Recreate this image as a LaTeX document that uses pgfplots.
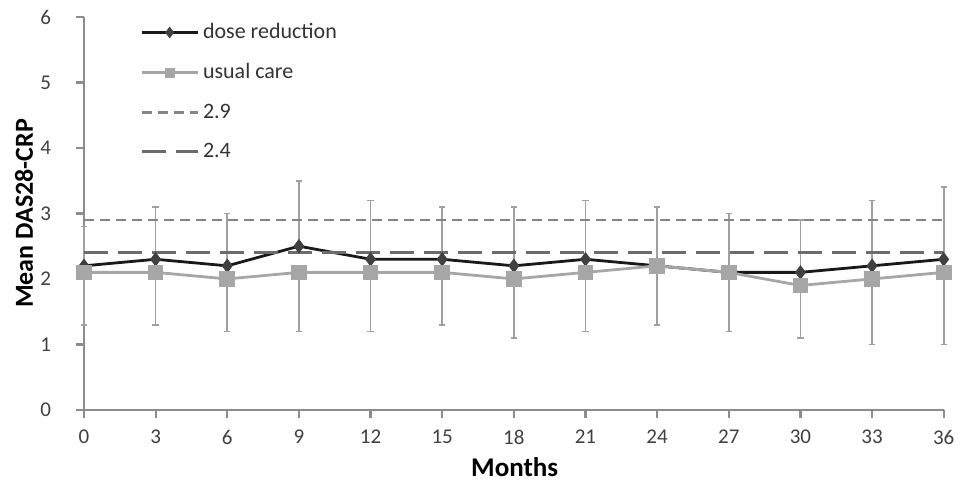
\documentclass[border=0pt]{standalone}
\usepackage{pgfplots}
\pgfplotsset{compat=1.18}
\usepackage{fontspec}
\setmainfont{Carlito}
\definecolor{axgray}{HTML}{8C8C8C}
\definecolor{ucgray}{HTML}{A6A6A6}
\definecolor{errgray}{HTML}{A0A0A0}
\definecolor{dmark}{HTML}{404040}
\begin{document}
\begin{tikzpicture}
\begin{axis}[
  scale only axis,
  width=430pt, height=196.5pt,
  xmin=0, xmax=36, ymin=0, ymax=6,
  axis x line=bottom, axis y line=left,
  axis line style={axgray, line width=1.1pt, -},
  xtick={0,3,...,36}, ytick={0,1,...,6},
  tick style={axgray, line width=1.1pt},
  tick align=outside,
  major tick length=4pt,
  /pgf/number format/assume math mode=true,
  ticklabel style={font=\fontsize{10.5}{12}\selectfont, text=black!75},
  xticklabel shift=2.5pt,
  yticklabel={\pgfmathprintnumber{\tick}\kern9pt},
  yticklabel style={anchor=east},
  xlabel={\textbf{Months}},
  ylabel={\textbf{Mean DAS28-CRP}},
  xlabel style={font=\fontsize{13.5}{15}\selectfont, at={(rel axis cs:0.501,-0.145)}, anchor=center},
  ylabel style={font=\fontsize{13}{15}\selectfont, at={(rel axis cs:-0.0698,0.5)}, anchor=center},
  clip=false,
  legend style={draw=none, fill=none, at={(rel axis cs:0.065,0.995)}, anchor=north west,
    font=\fontsize{11}{12}\selectfont, row sep=7pt, inner sep=0pt, text=black!80},
  legend cell align=left,
  legend image code/.code={\draw[#1] (0cm,0cm) -- (28pt,0cm); \draw[#1,only marks,mark size=1.8pt] plot coordinates {(14pt,0cm)};},
]
\path (rel axis cs:-0.0977,1.0433) rectangle (rel axis cs:1.0198,-0.1832);
\addplot[color=black!90, line width=1.4pt, mark=diamond*, mark size=2.5pt,
  mark options={fill=dmark, draw=dmark, solid},
  error bars/.cd, y dir=plus, y explicit,
  error bar style={errgray, line width=0.8pt, solid},
  error mark options={rotate=90, errgray, mark size=1.6pt, line width=0.8pt}]
  table[x=x, y=y, y error=e] {
x y e
0 2.2 0.6
3 2.3 0.8
6 2.2 0.8
9 2.5 1.0
12 2.3 0.9
15 2.3 0.8
18 2.2 0.9
21 2.3 0.9
24 2.2 0.9
27 2.1 0.9
30 2.1 0.8
33 2.2 1.0
36 2.3 1.1
};
\addlegendentry{dose reduction}
\addplot[color=ucgray, line width=1.4pt, mark=square*, mark size=3.2pt,
  mark options={fill=ucgray, draw=ucgray, solid},
  error bars/.cd, y dir=minus, y explicit,
  error bar style={errgray, line width=0.8pt, solid},
  error mark options={rotate=90, errgray, mark size=1.6pt, line width=0.8pt}]
  table[x=x, y=y, y error=e] {
x y e
0 2.1 0.8
3 2.1 0.8
6 2.0 0.8
9 2.1 0.9
12 2.1 0.9
15 2.1 0.8
18 2.0 0.9
21 2.1 0.9
24 2.2 0.9
27 2.1 0.9
30 1.9 0.8
33 2.0 1.0
36 2.1 1.1
};
\addlegendentry{usual care}
\addplot[color=black!48, line width=1.4pt, dash pattern=on 5pt off 3pt, mark=none]
  coordinates {(0,2.9) (36,2.9)};
\addlegendentry{2.9}
\addplot[color=black!58, line width=1.4pt, dash pattern=on 12pt off 5pt, mark=none]
  coordinates {(0,2.4) (36,2.4)};
\addlegendentry{2.4}
\end{axis}
\end{tikzpicture}
\end{document}
